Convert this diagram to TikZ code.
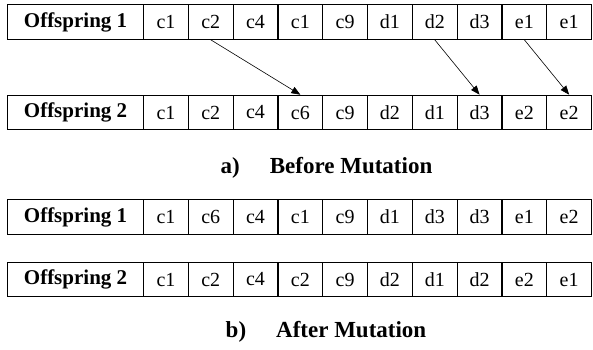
\documentclass[tikz,border=0pt]{standalone}
\usepackage{fontspec}
\setmainfont{Liberation Serif}
\usetikzlibrary{arrows.meta}
\begin{document}
\begin{tikzpicture}[x=1pt,y=-1pt,
  cell/.style={draw, line width=1.1pt, minimum width=44.8pt, minimum height=34.5pt, inner sep=0pt, font=\fontsize{20}{24}\selectfont, anchor=west},
  lab/.style={cell, minimum width=136pt, font=\fontsize{21}{25}\selectfont\bfseries},
  ttl/.style={font=\fontsize{23}{27}\selectfont\bfseries, inner sep=0pt},
  mut/.style={-{Triangle[length=9pt,width=7pt]}, line width=0.6pt}]
\useasboundingbox (0,0) rectangle (593,349);
% row 1
\node[lab] (r1l) at (7,22) {Offspring 1};
\foreach \t [count=\i] in {c1,c2,c4,c1,c9,d1,d2,d3,e1,e1}
  \node[cell] (r1c\i) at ({143+44.8*(\i-1)},22) {\t};
% row 2
\node[lab] (r2l) at (7,112.5) {Offspring 2};
\foreach \t [count=\i] in {c1,c2,c4,c6,c9,d2,d1,d3,e2,e2}
  \node[cell] (r2c\i) at ({143+44.8*(\i-1)},112.5) {\t};
% row 3
\node[lab] (r3l) at (7,217) {Offspring 1};
\foreach \t [count=\i] in {c1,c6,c4,c1,c9,d1,d3,d3,e1,e2}
  \node[cell] (r3c\i) at ({143+44.8*(\i-1)},217) {\t};
% row 4
\node[lab] (r4l) at (7,279.5) {Offspring 2};
\foreach \t [count=\i] in {c1,c2,c4,c2,c9,d2,d1,d2,e2,e1}
  \node[cell] (r4c\i) at ({143+44.8*(\i-1)},279.5) {\t};
% arrows
\draw[mut] (r1c2.south) -- (r2c4.north);
\draw[mut] (r1c7.south) -- (r2c8.north);
\draw[mut] (r1c9.south) -- (r2c10.north);
% titles
\node[ttl] (ta) at (326.5,168) {a)\hspace{30pt}Before Mutation};
\node[ttl] (tb) at (326,332) {b)\hspace{30pt}After Mutation};
\end{tikzpicture}
\end{document}
